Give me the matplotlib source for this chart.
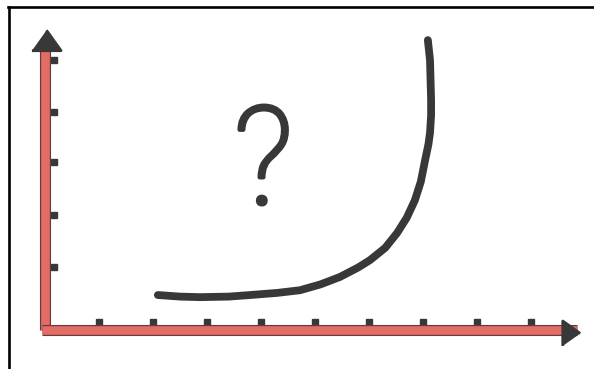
import numpy as np
import matplotlib
matplotlib.use("Agg")
import matplotlib.pyplot as plt
import matplotlib.patheffects as pe
from matplotlib.lines import Line2D
from matplotlib.markers import MarkerStyle

# curve (arbitrary units, 1 unit = one tick)
curve_x = [2.09, 2.50, 2.87, 3.40, 3.80, 4.30, 4.72, 5.10, 5.46, 5.80, 6.02, 6.30, 6.52, 6.70, 6.85, 6.96, 7.04, 7.10, 7.13, 7.15, 7.15, 7.13, 7.09]
curve_y = [0.66, 0.63, 0.62, 0.63, 0.66, 0.70, 0.75, 0.86, 1.00, 1.18, 1.32, 1.55, 1.83, 2.12, 2.45, 2.80, 3.21, 3.50, 3.72, 4.05, 4.34, 5.09, 5.47]

xtick_pos = [1, 2, 3, 4, 5, 6, 7, 8, 9]
ytick_pos = [1.19, 2.17, 3.17, 4.11, 5.09]

axis_red = '#e46c66'
ink = '#383838'

fig = plt.figure(figsize=(5.94, 3.69), dpi=100)
ax = fig.add_axes([0, 0, 1, 1])
ax.set_xlim(-45/54, (594-45)/54)
ax.set_ylim((330-369)/53, 330/53)
ax.axis('off')

# axes drawn as thick red strokes with dark outline
outline = [pe.Stroke(linewidth=8, foreground='#6b3a38'), pe.Normal()]
ax.plot([0, 0], [0, 5.3], color=axis_red, lw=6.2, solid_capstyle='butt', path_effects=outline, zorder=3)
ax.plot([-0.05, 9.85], [0, 0], color=axis_red, lw=6.2, solid_capstyle='butt', path_effects=outline, zorder=3)

# arrow heads
up = MarkerStyle([(-1, -0.7), (1, -0.7), (0, 0.7)], joinstyle='round')
right = MarkerStyle([(-0.7, -1), (-0.7, 1), (0.7, 0)], joinstyle='round')
ax.plot([0.02], [5.47], marker=up, ms=21, color=ink, mew=2, zorder=4)
ax.plot([9.74], [-0.06], marker=right, ms=18, color=ink, mew=2, zorder=4)

# tick marks
ax.plot(xtick_pos, [0.15]*len(xtick_pos), 's', ms=4.8, color=ink, zorder=2)
ax.plot([0.17]*len(ytick_pos), ytick_pos, 's', ms=4.8, color=ink, zorder=2)

# the curve
ax.plot(curve_x, curve_y, color=ink, lw=5.6, solid_capstyle='round', solid_joinstyle='round', zorder=5)

ax.text(4.04, 2.38, '?', fontsize=98, color=ink, ha='center', va='baseline',
        family=['Roboto', 'DejaVu Sans'], fontweight='light',
        path_effects=[pe.withStroke(linewidth=3.2, foreground=ink, capstyle='round')])

# frame lines from the original picture
fig.add_artist(Line2D([8/594, 1], [1-7/369, 1-7/369], color='black', lw=1.9))
fig.add_artist(Line2D([9/594, 9/594], [0, 1-7/369], color='black', lw=1.9))

fig.savefig('out.png', dpi=100, facecolor='white')
